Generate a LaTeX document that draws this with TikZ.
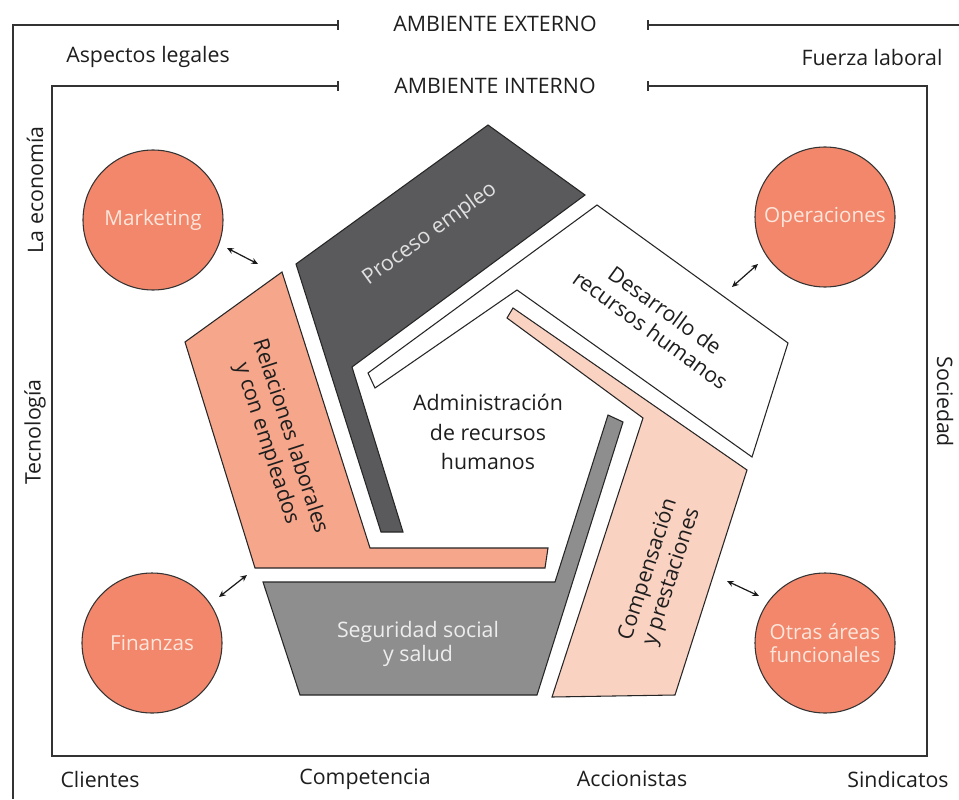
\documentclass[tikz,border=0pt]{standalone}
\usepackage{fontspec}
\setmainfont{Open Sans}
\usetikzlibrary{arrows.meta}
\definecolor{circfill}{HTML}{F2876B}
\definecolor{circtext}{HTML}{FCE6DC}
\definecolor{relfill}{HTML}{F5A68B}
\definecolor{compfill}{HTML}{FAD2C2}
\definecolor{procfill}{HTML}{5A5A5C}
\definecolor{segfill}{HTML}{8E8E8E}
\definecolor{inktext}{HTML}{1E1E1E}
\tikzset{
  frameline/.style={line width=1.1pt, draw=black!80},
  piece/.style={draw=black!85, line width=0.8pt, line join=miter},
  org/.style={circle, draw=black!80, line width=0.8pt, fill=circfill, minimum size=105pt, inner sep=0pt, text=circtext, align=center, font=\fontsize{15.5}{17}\selectfont},
  lbl/.style={align=center, inner sep=0pt, text=inktext},
  biarrow/.style={{Stealth[length=5pt,width=4.5pt]}-{Stealth[length=5pt,width=4.5pt]}, line width=0.9pt, draw=black!90}
}
\begin{document}
\begin{tikzpicture}[x=0.75pt,y=-0.75pt, font=\fontsize{16}{18.5}\selectfont]
\useasboundingbox (0,0) rectangle (959,799);
\fill[white] (0,0) rectangle (959,799);

% frames
\draw[frameline] (338,25) -- (13,25) -- (13,799);
\draw[frameline] (338,20) -- (338,30);
\draw[frameline] (959,25) -- (648,25);
\draw[frameline] (648,20) -- (648,30);
\draw[frameline] (338,86) -- (52,86) -- (52,756) -- (927,756) -- (927,86) -- (648,86);
\draw[frameline] (338,81) -- (338,91);
\draw[frameline] (648,81) -- (648,91);

\node[lbl] (ext) at (495,24) {AMBIENTE EXTERNO};
\node[lbl] (int) at (495,86) {AMBIENTE INTERNO};
\node[lbl] (asp) at (148,57) {Aspectos legales};
\node[lbl] (fue) at (872,57) {Fuerza laboral};
\node[lbl, rotate=90] (eco) at (35,190) {La economía};
\node[lbl, rotate=90] (tec) at (35,432) {Tecnología};
\node[lbl, rotate=-90] (soc) at (945,402) {Sociedad};
\node[lbl] (cli) at (100,779) {Clientes};
\node[lbl] (com) at (365,779) {Competencia};
\node[lbl] (acc) at (632,779) {Accionistas};
\node[lbl] (sin) at (898,779) {Sindicatos};

% pentagon pieces
\draw[piece, fill=procfill] (296,264) -- (488,125) -- (585,195) -- (352,367) -- (403,532) -- (381,532) -- cycle;
\draw[piece, fill=white] (597,205) -- (788,343) -- (752,457) -- (517,290) -- (375,388) -- (368,373) -- cycle;
\draw[piece, fill=compfill] (513,308) -- (747,470) -- (675,695) -- (552,697) -- (643,418) -- (507,318) -- cycle;
\draw[piece, fill=segfill] (263,582) -- (555,582) -- (608,415) -- (623,422) -- (537,695) -- (300,695) -- cycle;
\draw[piece, fill=relfill] (185,342) -- (282,272) -- (370,548) -- (548,548) -- (545,568) -- (255,568) -- cycle;

\node[lbl, rotate=36, text=black!12] (pro) at (430,234) {Proceso empleo};
\node[lbl, rotate=-36] (des) at (658,320) {Desarrollo de\\recursos humanos};
\node[lbl, rotate=72] (cmp) at (660,573) {Compensación\\y prestaciones};
\node[lbl, text=black!7] (seg) at (418,644) {Seguridad social\\y salud};
\node[lbl, rotate=-72] (rel) at (278,440) {Relaciones laborales\\y con empleados};
\node[lbl, font=\fontsize{16}{22}\selectfont] (adm) at (488,432) {Administración\\de recursos\\humanos};

% functional areas
\node[org] (mkt) at (153,220) {Marketing};
\node[org] (ops) at (825,217) {Operaciones};
\node[org] (fin) at (152,643) {Finanzas};
\node[org] (otr) at (825,643) {Otras áreas\\funcionales};

% links
\coordinate (m1) at (227,248); \coordinate (m2) at (258,264);
\coordinate (o1) at (732,287); \coordinate (o2) at (758,264);
\coordinate (f1) at (219,597); \coordinate (f2) at (247,575);
\coordinate (t1) at (727,581); \coordinate (t2) at (759,596);
\draw[biarrow] (m1) -- (m2);
\draw[biarrow] (o1) -- (o2);
\draw[biarrow] (f1) -- (f2);
\draw[biarrow] (t1) -- (t2);
\end{tikzpicture}
\end{document}
